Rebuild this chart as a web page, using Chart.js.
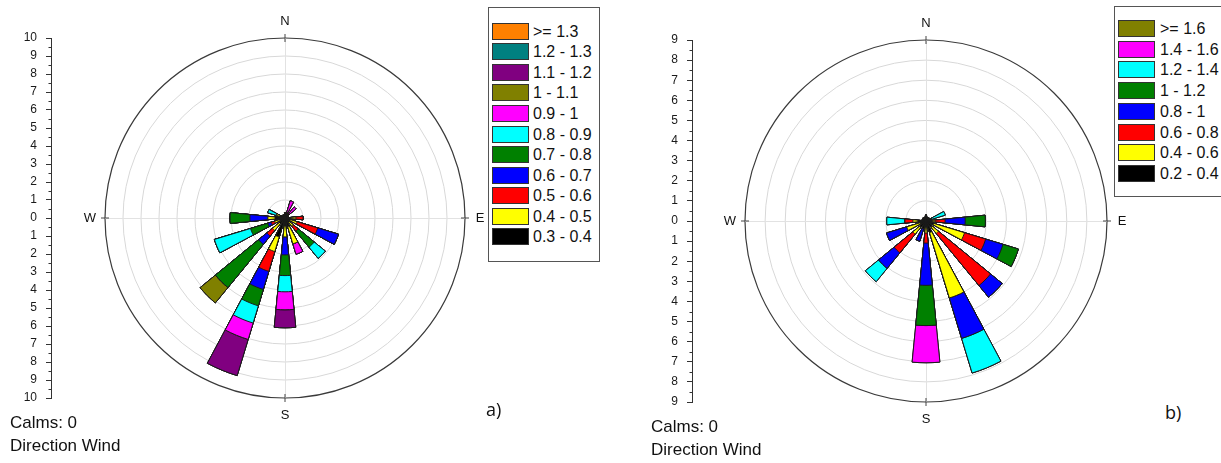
<!DOCTYPE html>
<html>
<head>
<meta charset="utf-8">
<script src="https://cdn.jsdelivr.net/npm/chart.js@4.4.1/dist/chart.umd.min.js"></script>
<style>
  html, body { margin: 0; padding: 0; background: #fff; }
  body { width: 1221px; height: 463px; position: relative; overflow: hidden;
         font-family: Arial, "Liberation Sans", sans-serif; color: #111; }
  canvas { position: absolute; }
  .legend { position: absolute; border: 1px solid #555; background: #fff; box-sizing: border-box; }
  .legend .row { position: absolute; height: 17px; white-space: nowrap; }
  .legend .sw { position: absolute; left: 0; top: 0; width: 35px; height: 15px; border: 1px solid #333; }
  .legend .tx { position: absolute; top: -1px; font-size: 16px; line-height: 19px; }
  .note { position: absolute; font-size: 17px; line-height: 20px; white-space: nowrap; }
  .tag { position: absolute; font-family: "Open Sans", sans-serif; font-size: 18px; line-height: 22px; }
</style>
</head>
<body>
<canvas id="axisA" width="70" height="440" style="left:0;top:0"></canvas>
<canvas id="roseA" width="420" height="440" style="left:75px;top:0"></canvas>
<canvas id="axisB" width="70" height="440" style="left:641px;top:0"></canvas>
<canvas id="roseB" width="420" height="440" style="left:716px;top:0"></canvas>

<div class="legend" id="legendA" style="left:488px;top:7px;width:112px;height:255px"></div>
<div class="legend" id="legendB" style="left:1114px;top:6px;width:120px;height:191px"></div>

<div class="note" style="left:10px;top:413px">Calms: 0</div>
<div class="note" style="left:10px;top:436px">Direction Wind</div>
<div class="tag" style="left:486px;top:398px">a)</div>

<div class="note" style="left:651px;top:417px">Calms: 0</div>
<div class="note" style="left:651px;top:440px">Direction Wind</div>
<div class="tag" style="left:1165px;top:401px">b)</div>

<script>
const directions = ['N', 'NNE', 'NE', 'ENE', 'E', 'ESE', 'SE', 'SSE',
                    'S', 'SSW', 'SW', 'WSW', 'W', 'WNW', 'NW', 'NNW'];

// panel a) speed classes, lowest first
const binsA = ['0.3 - 0.4', '0.4 - 0.5', '0.5 - 0.6', '0.6 - 0.7', '0.7 - 0.8', '0.8 - 0.9',
               '0.9 - 1', '1 - 1.1', '1.1 - 1.2', '1.2 - 1.3', '>= 1.3'];
const colorsA = ['#000000', '#FFFF00', '#FF0000', '#0000FF', '#008000', '#00FFFF',
                 '#FF00FF', '#808000', '#800080', '#008080', '#FF8000'];
//           N    NNE  NE   ENE  E    ESE  SE    SSE  S     SSW   SW   WSW  W     WNW  NW   NNW
const a03 = [0.3, 0.3, 0.3, 0.2, 0.3, 0.3, 0.3,  0.5, 0.45, 1.1,  0.4, 0.3, 0.55, 0.3, 0.2, 0.2];
const a04 = [0,   0,   0,   0,   0.3, 0.4, 0.3,  1.0, 0.6,  0.85, 0.5, 0.3, 0.4,  0.2, 0,   0];
const a05 = [0,   0,   0,   0,   0.4, 1.2, 0.35, 0,   0,    1.15, 0.4, 0.2, 0,    0,   0,   0];
const a06 = [0,   0,   0,   0,   0,   1.2, 0,    0,   1.0,  1.05, 0.6, 0.2, 1.0,  0,   0,   0];
const a07 = [0,   0,   0,   0,   0,   0,   1.15, 0,   1.15, 0.95, 3.1, 1.0, 1.1,  0,   0,   0];
const a08 = [0,   0,   0,   0,   0,   0,   0.8,  0,   0.9,  1.0,  0,   2.1, 0,    0.5, 0,   0];
const a09 = [0,   0.7, 0.5, 0,   0,   0,   0,    0.6, 1.0,  0.95, 0,   0,   0,    0,   0,   0];
const a10 = [0,   0,   0,   0,   0,   0,   0,    0,   0,    0,    1.1, 0,   0,    0,   0,   0];
const a11 = [0,   0,   0,   0,   0,   0,   0,    0,   1.0,  2.1,  0,   0,   0,    0,   0,   0];
const a12 = [0,   0,   0,   0,   0,   0,   0,    0,   0,    0,    0,   0,   0,    0,   0,   0];
const a13 = [0,   0,   0,   0,   0,   0,   0,    0,   0,    0,    0,   0,   0,    0,   0,   0];
const ticksA = 10;

// panel b) speed classes, lowest first
const binsB = ['0.2 - 0.4', '0.4 - 0.6', '0.6 - 0.8', '0.8 - 1', '1 - 1.2', '1.2 - 1.4',
               '1.4 - 1.6', '>= 1.6'];
const colorsB = ['#000000', '#FFFF00', '#FF0000', '#0000FF', '#008000', '#00FFFF',
                 '#FF00FF', '#808000'];
//           N    NNE  NE   ENE  E     ESE  SE    SSE  S     SSW   SW    WSW   W     WNW  NW   NNW
const b02 = [0.3, 0.2, 0.2, 0.3, 0.3,  0.4, 0.4,  0.6, 0.3,  0.4,  0.4,  0.3,  0.4,  0.2, 0.2, 0.2];
const b04 = [0,   0,   0,   0,   0.15, 1.6, 0.4,  3.4, 0.3,  0,    0.45, 0.7,  0.25, 0,   0,   0];
const b06 = [0,   0,   0,   0,   0.5,  1.1, 3.35, 0,   0.5,  0,    1.2,  0,    0.4,  0,   0,   0];
const b08 = [0,   0,   0,   0,   1.0,  0.9, 0.75, 2.1, 2.1,  0.65, 1.0,  1.05, 0,    0,   0,   0];
const b10 = [0,   0,   0,   0,   1.0,  0.8, 0,    0,   2.0,  0,    0,    0,    0,    0,   0,   0];
const b12 = [0,   0,   0,   0.7, 0,    0,   0,    1.8, 0,    0,    0.85, 0,    0.9,  0,   0,   0];
const b14 = [0,   0,   0,   0,   0,    0,   0,    0,   1.85, 0,    0,    0,    0,    0,   0,   0];
const b16 = [0,   0,   0,   0,   0,    0,   0,    0,   0,    0,    0,    0,    0,    0,   0,   0];
const ticksB = 9;

Chart.defaults.font.family = 'Arial, "Liberation Sans", sans-serif';
Chart.defaults.color = '#111';

// each direction gets a wedge followed by an empty slot of the same width
const SLOT = 360 / (directions.length * 2);

// one polar dataset per class holding the running total, so the
// lower classes (drawn last) sit on top as the inner part of each wedge
function stackedDatasets(series, colors) {
  const running = directions.map(() => 0);
  return series.map((values, k) => {
    const data = [];
    values.forEach((v, d) => {
      running[d] += v;
      data.push(running[d], 0);
    });
    return {
      data: data,
      backgroundColor: colors[k],
      borderColor: '#1a1a1a',
      borderWidth: c => (c.dataIndex % 2 ? 0 : 1)
    };
  });
}

const compass = {
  id: 'compass',
  beforeDatasetsDraw(chart) {
    const r = chart.scales.r;
    const ctx = chart.ctx;
    const R = r.drawingArea;
    ctx.save();
    ctx.strokeStyle = '#e2e2e2';
    ctx.lineWidth = 1;
    ctx.beginPath();
    ctx.moveTo(r.xCenter + 0.5, r.yCenter - R);
    ctx.lineTo(r.xCenter + 0.5, r.yCenter + R);
    ctx.moveTo(r.xCenter - R, r.yCenter + 0.5);
    ctx.lineTo(r.xCenter + R, r.yCenter + 0.5);
    ctx.stroke();
    ctx.restore();
  },
  afterDatasetsDraw(chart) {
    const r = chart.scales.r;
    const ctx = chart.ctx;
    const R = r.drawingArea;
    ctx.save();
    ctx.strokeStyle = '#444';
    ctx.lineWidth = 1;
    ctx.fillStyle = '#111';
    ctx.font = '13px Arial, "Liberation Sans", sans-serif';
    ctx.textAlign = 'center';
    ctx.textBaseline = 'middle';
    ctx.beginPath();
    [0, 4, 8, 12].forEach(i => {
      const a = i * 2 * SLOT * Math.PI / 180;
      const dx = Math.sin(a), dy = -Math.cos(a);
      ctx.moveTo(r.xCenter + dx * (R - 4), r.yCenter + dy * (R - 4));
      ctx.lineTo(r.xCenter + dx * (R + 4), r.yCenter + dy * (R + 4));
      ctx.fillText(directions[i], r.xCenter + dx * (R + 15), r.yCenter + dy * (R + 17));
    });
    ctx.stroke();
    ctx.restore();
  }
};

function roseChart(id, series, colors, max, pad) {
  const labels = [];
  directions.forEach(d => labels.push(d, ''));
  return new Chart(document.getElementById(id), {
    type: 'polarArea',
    data: { labels: labels, datasets: stackedDatasets(series, colors) },
    options: {
      responsive: false,
      animation: false,
      events: [],
      layout: { padding: pad },
      plugins: { legend: { display: false }, tooltip: { enabled: false } },
      scales: {
        r: {
          min: 0,
          max: max,
          startAngle: -SLOT / 2,
          ticks: { display: false, stepSize: 1 },
          angleLines: { display: false },
          pointLabels: { display: false },
          grid: {
            circular: true,
            color: c => (c.tick.value === max ? '#3a3a3a' : '#d8d8d8'),
            lineWidth: c => (c.tick.value === max ? 1.2 : 1)
          }
        }
      }
    },
    plugins: [compass]
  });
}

const minorTicks = {
  id: 'minorTicks',
  afterDraw(chart) {
    const y = chart.scales.y;
    const ctx = chart.ctx;
    ctx.save();
    ctx.strokeStyle = '#333';
    ctx.lineWidth = 1;
    ctx.beginPath();
    for (let v = y.min + 0.5; v < y.max; v += 1) {
      const py = Math.round(y.getPixelForValue(v)) + 0.5;
      ctx.moveTo(y.right - 2.5, py);
      ctx.lineTo(y.right, py);
    }
    ctx.stroke();
    ctx.restore();
  }
};

function axisChart(id, max, top, bottom) {
  return new Chart(document.getElementById(id), {
    type: 'line',
    data: { labels: [], datasets: [] },
    options: {
      responsive: false,
      animation: false,
      events: [],
      layout: { padding: { left: 11, right: 0, top: top, bottom: bottom } },
      plugins: { legend: { display: false }, tooltip: { enabled: false } },
      scales: {
        x: { display: false },
        y: {
          min: -max,
          max: max,
          afterFit: s => { s.width = 40; },
          ticks: {
            stepSize: 1,
            autoSkip: false,
            padding: 9,
            color: '#1a1a1a',
            font: { size: 12 },
            callback: v => Math.abs(v)
          },
          grid: { drawOnChartArea: false, tickLength: 5, tickColor: '#333' },
          border: { color: '#333' }
        }
      }
    },
    plugins: [minorTicks]
  });
}

function buildLegend(id, bins, colors, firstTop, pitch, swLeft, txLeft) {
  const box = document.getElementById(id);
  for (let i = bins.length - 1, row = 0; i >= 0; i--, row++) {
    const el = document.createElement('div');
    el.className = 'row';
    el.style.top = (firstTop + row * pitch) + 'px';
    el.style.left = swLeft + 'px';
    el.innerHTML = '<div class="sw" style="background:' + colors[i] + '"></div>' +
                   '<div class="tx" style="left:' + (txLeft - swLeft) + 'px"></div>';
    el.querySelector('.tx').textContent = bins[i];
    box.appendChild(el);
  }
}

axisChart('axisA', ticksA, 38, 42);
roseChart('roseA', [a03, a04, a05, a06, a07, a08, a09, a10, a11, a12, a13], colorsA, ticksA,
          { left: 30, right: 30, top: 38, bottom: 42 });
buildLegend('legendA', binsA, colorsA, 14.7, 20.56, 3, 44);

axisChart('axisB', ticksB, 40, 38);
roseChart('roseB', [b02, b04, b06, b08, b10, b12, b14, b16], colorsB, ticksB,
          { left: 29, right: 29, top: 40, bottom: 38 });
buildLegend('legendB', binsB, colorsB, 13, 20.7, 3, 45);
</script>
</body>
</html>
